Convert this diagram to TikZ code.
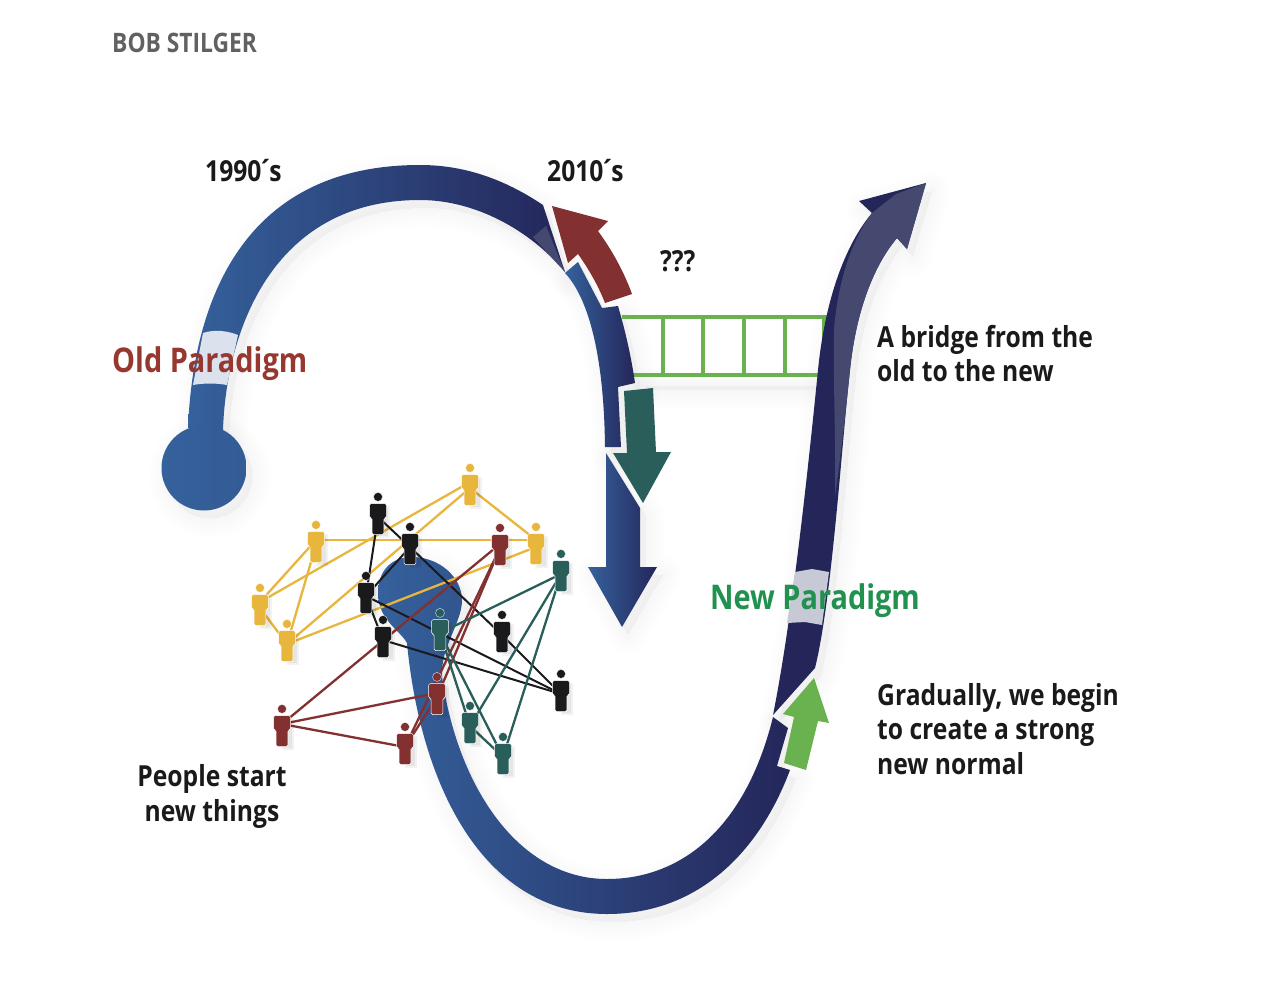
\documentclass[tikz,border=0pt]{standalone}
\usepackage{fontspec}
\setmainfont{Open Sans}[FakeStretch=0.85]
\definecolor{ribbonblue}{HTML}{35619C}
\definecolor{ribbonnavy}{HTML}{24265A}
\definecolor{ribbonpale}{HTML}{46496F}
\definecolor{yellowc}{HTML}{E8B53D}
\definecolor{blackc}{HTML}{1A1A1C}
\definecolor{redc}{HTML}{823030}
\definecolor{tealc}{HTML}{2A5E5A}
\definecolor{bridgegreen}{HTML}{6AB150}
\definecolor{oldtext}{HTML}{96382F}
\definecolor{newtext}{HTML}{20914F}
% Ribbon outlines, in pixel-like units
\def\ribbonA{(188,428) .. controls (192,330) and (225,165) .. (420,165) .. controls (470,165) and (510,183) .. (543,205) -- (565,272) .. controls (530,230) and (475,200) .. (420,200) .. controls (270,200) and (226,335) .. (223,430)}
\def\ribbonB{(565,273) .. controls (590,300) and (604,360) .. (605,447) -- (621,447) -- (618,387) -- (635,383) .. controls (631,355) and (625,330) .. (618,306) -- (602,308) -- (578,262)}
\def\ribbonC{(606,453) -- (640,508) -- (640,567) -- (657,567) -- (622,627) -- (588,567) -- (606,567)}
\def\ribbonD{(407,643) .. controls (400,630) and (378,620) .. (378,593) .. controls (378,570) and (392,557) .. (412,557) .. controls (440,557) and (462,578) .. (462,600) .. controls (462,625) and (437,650) .. (443,683) .. controls (460,790) and (520,879) .. (607,879) .. controls (680,879) and (745,830) .. (773,717) -- (788,728) -- (777,766) -- (790,770) .. controls (760,850) and (700,914) .. (607,914) .. controls (480,914) and (420,780) .. (407,643)}
\def\ribbonE{(773,715) .. controls (790,630) and (805,500) .. (818,370) .. controls (825,300) and (845,245) .. (872,213) -- (859,201) -- (926,183) -- (907,249) -- (897,238) .. controls (870,270) and (855,320) .. (850,370) .. controls (842,440) and (832,600) .. (815,668)}
\tikzset{
  softshadow/.style={draw=black,fill=black,line width=#1,opacity=.005,line join=round},
  person/.pic={
    \fill[black,opacity=.05] (0,-11) rectangle (12,21);
    \fill[black,opacity=.05] (2,-9) rectangle (10,19);
    \path[fill=#1,draw=white,line width=.5pt,line join=round,rounded corners=1.6pt]
      (-8.5,-13.5) -- (8.5,-13.5) -- (8.5,1) -- (5.8,1) -- (5.8,17.7) -- (-5.8,17.7) -- (-5.8,1) -- (-8.5,1) -- cycle;
    \path[fill=#1,draw=white,line width=.3pt] (0,-20.1) circle (4.5);
  },
  linkY/.style={draw=yellowc,line width=2.3pt},
  linkK/.style={draw=blackc,line width=2pt},
  linkR/.style={draw=redc,line width=2.3pt},
  linkT/.style={draw=tealc,line width=2.3pt},
  label/.style={font=\fontsize{29}{34.5}\selectfont\bfseries,text=blackc,inner sep=0,align=left},
  paradigm/.style={font=\fontsize{34}{40}\selectfont\bfseries,inner sep=0},
  barstyle/.style={draw=bridgegreen,line width=4pt}
}
\begin{document}
\begin{tikzpicture}[x=1pt,y=-1pt]
\useasboundingbox (0,0) rectangle (1280,1004);
\fill[white] (0,0) rectangle (1280,1004);

% soft drop shadows under the ribbons
\begin{scope}[shift={(6,8)}]
\foreach \w in {3,8,13,18,23,28,33,38}{
  \path[softshadow=\w pt] \ribbonA -- cycle;
  \path[softshadow=\w pt] (204,468) circle (42.5);
  \path[softshadow=\w pt] \ribbonB -- cycle;
  \path[softshadow=\w pt] \ribbonC -- cycle;
  \path[softshadow=\w pt] \ribbonD -- cycle;
  \path[softshadow=\w pt] \ribbonE -- cycle;
  \path[softshadow=\w pt] (640,378) rectangle (812,382);
}
\end{scope}

% ladder bridging the two ribbons
\draw[barstyle] (622,317) -- (828,317);
\draw[barstyle] (633,375) -- (818,375);
\foreach \x in {663,703,744,785,824}
  \draw[barstyle] (\x,317) -- (\x,375);

% ribbons
\shade[left color=ribbonblue,right color=ribbonnavy] \ribbonA -- cycle;
\fill[ribbonpale] (533,237) -- (546,226) -- (565,272) -- cycle;
\shade[left color=ribbonblue,right color=ribbonblue!90!ribbonnavy] (204,468) circle (42.5);
\fill[ribbonblue!18!white] (203,333) .. controls (215,329) and (228,331) .. (238,335) -- (227,385) .. controls (216,383) and (204,383) .. (193,385) -- cycle;
\shade[left color=ribbonblue,right color=ribbonnavy] \ribbonB -- cycle;
\shade[left color=ribbonblue,right color=ribbonnavy] \ribbonC -- cycle;
\shade[left color=ribbonblue,middle color=ribbonblue!65!ribbonnavy,right color=ribbonnavy] \ribbonD -- cycle;
\fill[ribbonnavy] \ribbonE -- cycle;
\fill[ribbonpale] (872,213) -- (896,194) -- (926,183) -- (907,249) -- (897,238)
  .. controls (870,270) and (855,320) .. (850,370)
  .. controls (845,420) and (840,460) .. (835,497)
  .. controls (836,440) and (833,380) .. (834,330)
  .. controls (838,280) and (852,240) .. (872,213) -- cycle;
\fill[ribbonnavy!25!white] (795,572) -- (812,569) -- (829,572) -- (822,625) -- (805,622) -- (787,623) -- cycle;

% direction arrows
\fill[redc] (552,206) -- (608,221) -- (598,231) .. controls (612,250) and (624,272) .. (632,294) -- (605,303) .. controls (598,285) and (588,268) .. (578,254) -- (568,263) -- cycle;
\fill[tealc] (624,391) -- (653,388) -- (656,452) -- (671,452) -- (643,503) -- (613,453) -- (627,453) -- cycle;
\fill[bridgegreen] (783,714) -- (794,717) -- (784,763) -- (806,770) -- (818,721) -- (829,723) -- (814,678) -- cycle;

% people: reference points at body centres
\coordinate (Y1) at (470,488); \coordinate (Y2) at (316,545); \coordinate (Y3) at (536,547);
\coordinate (Y4) at (260,608); \coordinate (Y5) at (287,644);
\coordinate (K1) at (378,517); \coordinate (K2) at (410,547); \coordinate (K3) at (366,596);
\coordinate (K4) at (383,640); \coordinate (K5) at (502,635); \coordinate (K6) at (561,694);
\coordinate (R1) at (500,548); \coordinate (R2) at (437,697); \coordinate (R3) at (282,729);
\coordinate (R4) at (405,747);
\coordinate (T1) at (561,574); \coordinate (T2) at (440,633); \coordinate (T3) at (470,726);
\coordinate (T4) at (503,757);
% shoulder-height attachment points for some links
\coordinate (Y1s) at (470,482); \coordinate (Y2s) at (316,540); \coordinate (Y3s) at (536,540);
\coordinate (Y4s) at (260,602); \coordinate (R1s) at (500,544); \coordinate (R2s) at (437,693);
\coordinate (R3s) at (282,724);

% links between people
\foreach \a/\b in {Y1/Y3s,Y1s/Y4s,Y1/Y5,Y2s/Y3s,Y2s/Y4s,Y2/Y5,Y4/Y5,Y5/Y3}
  \draw[linkY] (\a) -- (\b);
\foreach \a/\b in {K1/K2,K1/K3,K2/K3,K3/K4,K2/K5,K5/K6,K3/K6,K4/K6}
  \draw[linkK] (\a) -- (\b);
\foreach \a/\b in {R3s/R4,R3s/R2s,R3s/R1s,R4/R2,R4/R1,R2/R1}
  \draw[linkR] (\a) -- (\b);
\foreach \a/\b in {T1/T2,T1/T3,T1/T4,T2/T3,T2/T4,T3/T4}
  \draw[linkT] (\a) -- (\b);

% the people themselves
\foreach \p in {Y1,Y2,Y3,Y4,Y5} \pic at (\p) {person=yellowc};
\foreach \p in {K1,K2,K3,K4,K5,K6} \pic at (\p) {person=blackc};
\foreach \p in {R1,R2,R3,R4} \pic at (\p) {person=redc};
\foreach \p in {T1,T2,T3,T4} \pic at (\p) {person=tealc};

% labels
\node[anchor=base west,inner sep=0,text=black!62,font=\fontsize{26.8}{30}\selectfont\bfseries] (author) at (112,52) {BOB STILGER};
\node[label,anchor=base west] (y1990) at (205,181) {1990\kern-3.5pt´\kern-3.5pt s};
\node[label,anchor=base west] (y2010) at (547,181) {2010\kern-3.5pt´\kern-3.5pt s};
\node[label,anchor=base west] (qqq) at (660,271) {???};
\node[paradigm,text=oldtext,anchor=base west] (oldp) at (112,372) {Old Paradigm};
\node[paradigm,text=newtext,anchor=base west] (newp) at (710,609) {New Paradigm};
\node[label,anchor=base west] (bridgetxt) at (877,381.5) {A bridge from the\\old to the new};
\node[label,anchor=base west] (normaltxt) at (877,774) {Gradually, we begin\\to create a strong\\new normal};
\node[label,align=center,anchor=base] (peopletxt) at (212,821) {People start\\new things};
\end{tikzpicture}
\end{document}
